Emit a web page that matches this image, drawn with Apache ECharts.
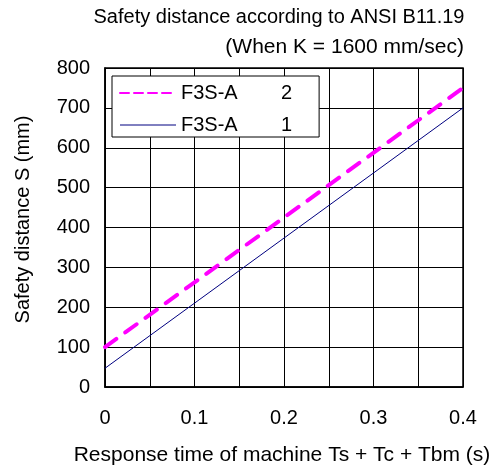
<!DOCTYPE html>
<html>
<head>
<meta charset="utf-8">
<script src="https://cdn.jsdelivr.net/npm/echarts@6/dist/echarts.min.js"></script>
<style>
  html, body { margin: 0; padding: 0; background: #fff; }
  #main { width: 495px; height: 472px; }
</style>
</head>
<body>
<div id="main"></div>
<script>
var chartDom = document.getElementById('main');
var myChart = echarts.init(chartDom);

// data
var seriesNames = ['F3S-A 2', 'F3S-A 1'];
var times = [0, 0.4];
var valuesA2 = [100, 750];
var valuesA1 = [47, 700];
var xTickLabels = ['0', '0.1', '0.2', '0.3', '0.4'];

var font = 'Liberation Sans, Arial, sans-serif';

function pairs(xs, ys) {
    return xs.map(function (x, i) { return [x, ys[i]]; });
}

var option = {
    backgroundColor: '#fff',
    animation: false,
    textStyle: { fontFamily: font, color: '#000' },
    title: [{
        text: 'Safety distance according to ANSI B11.19',
        left: 274, top: 2, textAlign: 'center',
        textStyle: { fontSize: 20, fontWeight: 'normal', color: '#000', fontFamily: font }
    }, {
        text: '(When K = 1600 mm/sec)',
        right: 26, top: 32,
        textStyle: { fontSize: 21, fontWeight: 'normal', color: '#000', fontFamily: font }
    }],
    legend: {
        orient: 'vertical',
        left: 112, top: 76,
        padding: [7, 27, 2, 7],
        itemGap: 12,
        itemWidth: 56,
        itemHeight: 20,
        itemStyle: { opacity: 0 },
        backgroundColor: '#fff',
        borderColor: '#000',
        borderWidth: 1,
        borderRadius: 0,
        formatter: function (name) {
            var parts = name.split(' ');
            return '{a|' + parts[0] + '}{b|' + parts[1] + '}';
        },
        textStyle: {
            fontSize: 20, color: '#000', fontFamily: font,
            rich: {
                a: { fontSize: 20, width: 100, fontFamily: font },
                b: { fontSize: 20, width: 11, fontFamily: font }
            }
        },
        data: [
            { name: seriesNames[0], lineStyle: { width: 2, type: [9, 5] } },
            { name: seriesNames[1], lineStyle: { width: 1 } }
        ]
    },
    grid: {
        left: 105, right: 32, top: 68, bottom: 85,
        show: true, borderColor: '#000', borderWidth: 1.5
    },
    xAxis: {
        type: 'value',
        min: 0, max: 0.4, interval: 0.05,
        name: 'Response time of machine Ts + Tc + Tbm (s)',
        nameLocation: 'middle', nameGap: 58,
        nameTextStyle: { fontSize: 21, color: '#000', fontFamily: font, padding: [0, 4, 0, 0] },
        axisLine: { show: true, lineStyle: { color: '#000', width: 1.5 } },
        axisTick: { show: false },
        axisLabel: {
            fontSize: 20, color: '#000', margin: 21, fontFamily: font,
            formatter: function (v) {
                var k = Math.round(v * 20);
                return k % 2 === 0 ? xTickLabels[k / 2] : '';
            }
        },
        splitLine: { show: true, lineStyle: { color: '#000', width: 1 } }
    },
    yAxis: {
        type: 'value',
        min: 0, max: 800, interval: 100,
        name: 'Safety distance S (mm)',
        nameLocation: 'middle', nameGap: 72, nameRotate: 90,
        nameTextStyle: { fontSize: 20, color: '#000', fontFamily: font, padding: [0, 0, 0, 16] },
        axisLine: { show: true, lineStyle: { color: '#000', width: 1.5 } },
        axisTick: { show: false },
        axisLabel: { fontSize: 20, color: '#000', margin: 15, fontFamily: font },
        splitLine: { show: true, lineStyle: { color: '#000', width: 1 } }
    },
    series: [{
        name: seriesNames[0],
        type: 'line',
        data: pairs(times, valuesA2),
        symbol: 'none',
        z: 3,
        lineStyle: { color: '#ff00ff', width: 4, type: [14, 11], cap: 'round' },
        itemStyle: { color: '#ff00ff' }
    }, {
        name: seriesNames[1],
        type: 'line',
        data: pairs(times, valuesA1),
        symbol: 'none',
        z: 2,
        lineStyle: { color: '#000080', width: 1 },
        itemStyle: { color: '#000080' }
    }]
};

option && myChart.setOption(option);
</script>
</body>
</html>
